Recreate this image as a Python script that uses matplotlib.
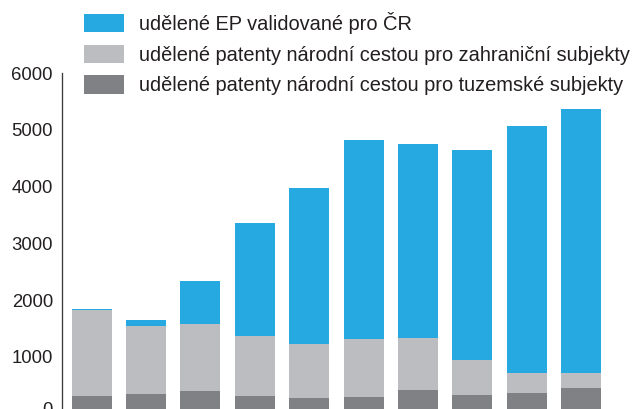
import matplotlib
matplotlib.use("Agg")
import matplotlib.pyplot as plt
import matplotlib.transforms as mtransforms
import numpy as np

# Data
categories = ["1", "2", "3", "4", "5", "6", "7", "8", "9", "10"]
tuzemske = [309, 344, 397, 309, 273, 291, 414, 326, 362, 450]
zahranicni = [1516, 1199, 1181, 1058, 953, 1023, 918, 618, 352, 264]
ep_validovane = [18, 106, 759, 1993, 2751, 3510, 3421, 3703, 4357, 4656]
labels = ["udělené EP validované pro ČR",
          "udělené patenty národní cestou pro zahraniční subjekty",
          "udělené patenty národní cestou pro tuzemské subjekty"]
yticks = [0, 1000, 2000, 3000, 4000, 5000, 6000]

c_blue = "#25a9e0"
c_light = "#bcbdc1"
c_dark = "#808184"
c_text = "#231f20"

plt.rcParams['font.family'] = ['Liberation Sans', 'DejaVu Sans']

W, H = 641, 409
fig = plt.figure(figsize=(W / 100, H / 100), dpi=100)
ax = fig.add_axes([61.7 / W, -4.5 / H, 571.2 / W, 340.2 / H])

x = np.arange(len(categories))
bw = 0.735
t = np.array(tuzemske)
z = np.array(zahranicni)
e = np.array(ep_validovane)
b1 = ax.bar(x, t, bw, color=c_dark, linewidth=0)
b2 = ax.bar(x, z, bw, bottom=t, color=c_light, linewidth=0)
b3 = ax.bar(x, e, bw, bottom=t + z, color=c_blue, linewidth=0)

ax.set_xlim(-0.55, 9.95)
ax.set_ylim(0, 6000)
ax.set_yticks(yticks)
ax.set_yticklabels([str(v) for v in yticks])
ax.set_xticks([])
for s in ["top", "right", "bottom"]:
    ax.spines[s].set_visible(False)
ax.spines["left"].set_color("#3a3a3a")
ax.spines["left"].set_linewidth(0.95)
ax.tick_params(axis="y", length=0, pad=6.3, labelsize=13.3, labelcolor=c_text)

# shift the "0" label up slightly like in the reference
for lab in ax.get_yticklabels():
    if lab.get_text() == "0":
        off = mtransforms.ScaledTranslation(0, 5 / 100, fig.dpi_scale_trans)
        lab.set_transform(lab.get_transform() + off)

leg = ax.legend([b3, b2, b1], labels, loc="upper left",
                bbox_to_anchor=(84 / W, 1 - 12 / H), bbox_transform=fig.transFigure,
                frameon=False, fontsize=14.4, handlelength=2.0, handleheight=1.05,
                handletextpad=0.75, labelspacing=0.53, borderpad=0, borderaxespad=0)
for txt in leg.get_texts():
    txt.set_color(c_text)

fig.savefig("out.png", dpi=100)
